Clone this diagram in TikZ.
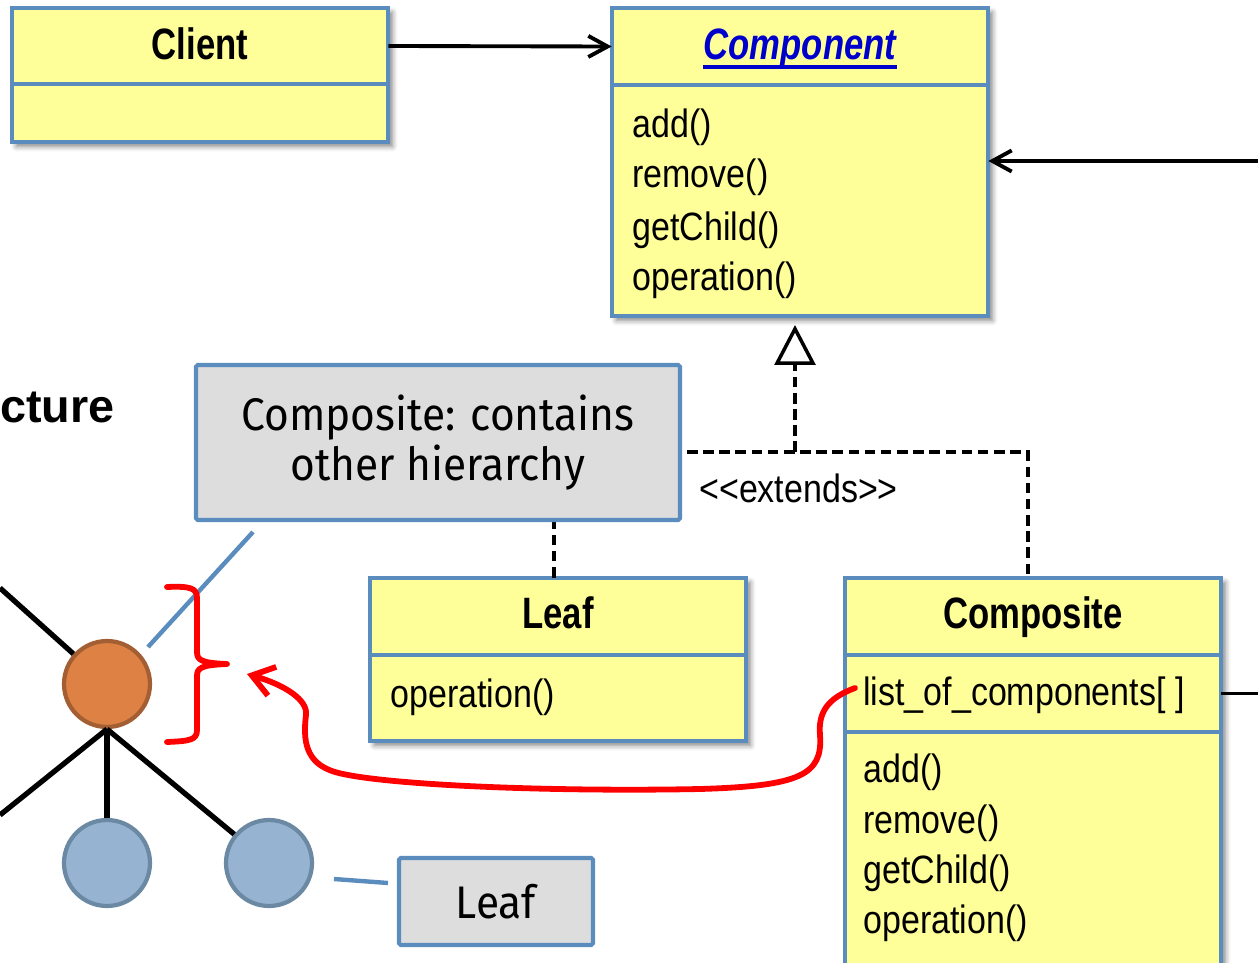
\documentclass[tikz,border=0pt]{standalone}
\usepackage{fontspec}
\setmainfont{Liberation Sans}[FakeStretch=0.86]
\newfontfamily\titlefont{Liberation Sans}[FakeStretch=0.79]
\newfontfamily\widesans{Liberation Sans}
\newfontfamily\notefont{Fira Sans}[FakeStretch=0.93]
\usetikzlibrary{arrows.meta,fit,shadows.blur}

\definecolor{umlfill}{HTML}{FFFF99}
\definecolor{umlline}{HTML}{5B8CBE}
\definecolor{notefill}{HTML}{DDDDDD}
\definecolor{titleblue}{HTML}{0000CC}
\definecolor{nodeorange}{HTML}{DD8145}
\definecolor{orangeline}{HTML}{A35F33}
\definecolor{nodeblue}{HTML}{96B4D2}
\definecolor{blueline}{HTML}{6C89A3}
\definecolor{penred}{HTML}{FF0000}

\begin{document}
\begin{tikzpicture}[x=0.02cm,y=-0.02cm,
  umlbox/.style={fit={#1}, inner sep=0pt, draw=umlline, line width=2.4pt, fill=umlfill,
    blur shadow={shadow xshift=2.5pt, shadow yshift=-2.5pt, shadow blur radius=3pt, shadow opacity=50}},
  umlpart/.style={fit={#1}, inner sep=0pt},
  calloutbox/.style={fit={#1}, inner sep=0pt, draw=umlline, line width=2.4pt, fill=notefill, rounded corners=1pt},
  divider/.style={draw=umlline, line width=2.4pt},
  umltitle/.style={font=\titlefont\fontsize{25}{30}\selectfont\bfseries, anchor=base, inner sep=0pt},
  umlitem/.style={font=\fontsize{22.5}{29}\selectfont, anchor=base west, inner sep=0pt},
  calloutlabel/.style={font=\notefont\fontsize{26}{28.9}\selectfont, align=center, inner sep=0pt},
  assocarrow/.style={line width=2.2pt, -{Straight Barb[length=11pt,width=12pt]}},
  dashedlink/.style={line width=2pt, dash pattern=on 6pt off 3.2pt},
  treeedge/.style={line width=3pt},
  calloutline/.style={draw=umlline, line width=2.5pt},
  pen/.style={draw=penred, line width=3.3pt, line cap=round, line join=round},
  treenode/.style={circle, minimum size=1.72cm, inner sep=0pt, line width=2.4pt}
]
\useasboundingbox (0,0) rectangle (1258,963);
\clip (0,0) rectangle (1258,963);

% ---- reference points at the picture's edges
\coordinate (rightedge) at (1258,0);
\coordinate (compfeed) at (1258,161);

% ---- Client
\node[umlbox={(12,8) (388,142)}] (client) {};
\node[umlpart={(12,8) (388,84)}] (clienthead) {};
\draw[divider] (client.west |- 0,84) -- (client.east |- 0,84);
\node[umltitle] at (200,60) {Client};

% ---- Component
\node[umlbox={(612,8) (988,316)}] (comp) {};
\node[umlpart={(612,8) (988,85)}] (comphead) {};
\node[umlpart={(612,85) (988,316)}] (compbody) {};
\draw[divider] (comp.west |- 0,85) -- (comp.east |- 0,85);
\node[umltitle, font=\titlefont\fontsize{25}{30}\selectfont\bfseries\itshape, text=titleblue] (comptitle) at (800,60) {Component};
\draw[titleblue, line width=1.8pt] ([yshift=-4pt]comptitle.base west) -- ([yshift=-4pt]comptitle.base east);
\node[umlitem] at (632,137) {add()};
\node[umlitem] at (632,188) {remove()};
\node[umlitem] at (632,240) {getChild()};
\node[umlitem] at (632,290) {operation()};

% ---- Leaf class
\node[umlbox={(370,578) (746,741)}] (leaf) {};
\node[umlpart={(370,578) (746,655)}] (leafhead) {};
\draw[divider] (leaf.west |- 0,655) -- (leaf.east |- 0,655);
\node[umltitle] at (558,628) {Leaf};
\node[umlitem] at (390,707) {operation()};

% ---- Composite class
\node[umlbox={(845,578) (1221,1000)}] (composite) {};
\node[umlpart={(845,578) (1221,655)}] (compositehead) {};
\node[umlpart={(845,655) (1221,732)}] (compositeattr) {};
\draw[divider] (composite.west |- 0,655) -- (composite.east |- 0,655);
\draw[divider] (composite.west |- 0,732) -- (composite.east |- 0,732);
\node[umltitle] at (1033,628) {Composite};
\node[umlitem] (attrtext) at (863,705) {list\_of\_components[ ]};
\node[umlitem] at (863,782) {add()};
\node[umlitem] at (863,833) {remove()};
\node[umlitem] at (863,883) {getChild()};
\node[umlitem] at (863,933) {operation()};

% ---- associations
\draw[assocarrow] (clienthead.east) -- (comphead.west);
\draw[assocarrow] (compfeed) -- (compfeed -| compbody.east);
\draw[line width=2.2pt] (compositeattr.east) -- (compositeattr.east -| rightedge);

% ---- generalization
\coordinate (leafjoin) at (554,452);
\coordinate (compjoin) at (1028,452);
\coordinate (genjoin) at (795,452);
\coordinate (genapex) at (795,325);
\draw[dashedlink] (leafjoin |- leafhead.north) -- (leafjoin) -- (compjoin) -- (compjoin |- compositehead.north);
\draw[dashedlink, -{Triangle[length=22.7pt, width=23.2pt, fill=white]}] (genjoin) -- (genapex);
\node[umlitem] at (699,502) {<{}<extends>{}>};

% ---- callouts
\node[calloutbox={(196,365) (680,520)}] (compnote) {};
\node[calloutlabel] at (compnote.center) {Composite: contains\\other hierarchy};
\node[calloutbox={(399,858) (593,945)}] (leafnote) {};
\node[calloutlabel] at (leafnote.center) {Leaf};

\node[font=\widesans\bfseries\fontsize{26.6}{30}\selectfont, anchor=base east, inner sep=0pt] at (115,422) {cture};

% ---- tree
\node[treenode, fill=nodeorange, draw=orangeline] (hub) at (107,684) {};
\node[treenode, fill=nodeblue, draw=blueline] (leafa) at (107,863) {};
\node[treenode, fill=nodeblue, draw=blueline] (leafb) at (269,863) {};
\coordinate (treeup) at (0,588);
\coordinate (treedown) at (0,815);
\draw[treeedge] (treeup) -- (hub);
\draw[treeedge] (hub.south) -- (treedown);
\draw[treeedge] (hub.south) -- (leafa.north);
\draw[treeedge] (hub.south) -- (leafb);

\coordinate (hubtag) at (148,647);
\coordinate (compnotetag) at (253,532);
\coordinate (leaftag) at (334,879);
\coordinate (leafnotetag) at (388,883);
\draw[calloutline] (hubtag) -- (compnotetag);
\draw[calloutline] (leaftag) -- (leafnotetag);

% ---- red brace and hand-drawn pointer
\draw[pen] (167,587) .. controls (190,586) and (197,588) .. (197,598) -- (197,652)
  .. controls (197,660) and (201,663) .. (227,664)
  .. controls (201,665) and (197,668) .. (197,676) -- (197,730)
  .. controls (197,740) and (190,741) .. (167,742);
\coordinate (penstart) at (855,688);
\coordinate (pentip) at (247,674);
\draw[pen, -{Straight Barb[length=12pt,width=17pt]}] (penstart)
  .. controls (828,698) and (818,712) .. (820,735)
  .. controls (823,775) and (800,786) .. (700,789)
  .. controls (550,792) and (380,785) .. (335,772)
  .. controls (305,763) and (303,740) .. (306,715)
  .. controls (308,700) and (285,685) .. (pentip);
\end{tikzpicture}
\end{document}
